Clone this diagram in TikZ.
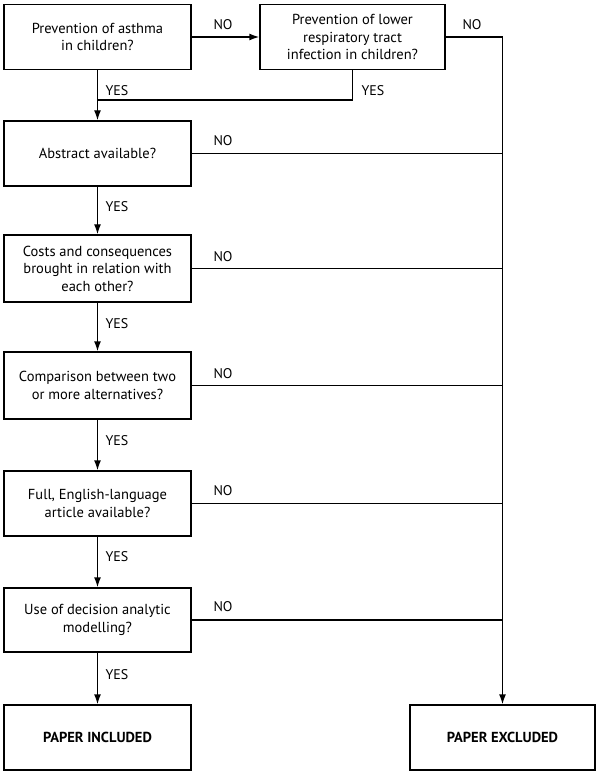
\documentclass[tikz,border=0pt]{standalone}
\usepackage{fontspec}
\setmainfont{PT Sans}
\usetikzlibrary{arrows.meta}
\begin{document}
\begin{tikzpicture}[x=1pt,y=-1pt,
  box/.style={draw,line width=1.4pt,minimum width=187pt,inner sep=0pt,align=center,font=\fontsize{14.5}{17.5}\selectfont},
  lbl/.style={font=\fontsize{14}{16}\selectfont,inner sep=0pt},
  ln/.style={line width=1.4pt},
  arr/.style={line width=1.4pt,-{Latex[length=10pt,width=7pt]}}]
\useasboundingbox (0,0) rectangle (600,775);
\node[box,minimum height=65pt] (b1) at (97.5,37) {Prevention of asthma\\in children?};
\node[box,minimum height=65pt,minimum width=185pt] (b2) at (352.5,37) {Prevention of lower\\respiratory tract\\infection in children?};
\node[box,minimum height=65pt] (b3) at (97.5,153.5) {Abstract available?};
\node[box,minimum height=67pt] (b4) at (97.5,268.5) {Costs and consequences\\brought in relation with\\each other?};
\node[box,minimum height=67pt] (b5) at (97.5,385.5) {Comparison between two\\or more alternatives?};
\node[box,minimum height=65pt] (b6) at (97.5,503.5) {Full, English-language\\article available?};
\node[box,minimum height=64pt] (b7) at (97.5,620) {Use of decision analytic\\modelling?};
\node[box,minimum height=65pt,font=\fontsize{14.5}{17.5}\selectfont\bfseries] (inc) at (97.5,737.5) {PAPER INCLUDED};
\node[box,minimum height=65pt,minimum width=185pt,font=\fontsize{14.5}{17.5}\selectfont\bfseries] (exc) at (502.5,737.5) {PAPER EXCLUDED};
\coordinate (j) at (97.5,100);
\coordinate (c) at (502.5,37);
% arrows
\draw[arr] (b1) -- (b2);
\draw[ln] (b2.east) -- (c);
\draw[arr] (c) -- (exc.north);
\draw[ln] (b2.south) |- (j);
\draw[arr] (b1) -- (b3);
\draw[arr] (b3) -- (b4);
\draw[arr] (b4) -- (b5);
\draw[arr] (b5) -- (b6);
\draw[arr] (b6) -- (b7);
\draw[arr] (b7) -- (inc);
\foreach \b in {b3,b4,b5,b6,b7}{\draw[ln] (\b.east) -- (\b.east -| c);}
% labels
\node[lbl] (n1) at (223,25) {NO};
\node[lbl] (n2) at (472,25) {NO};
\node[lbl] (y1) at (117,91) {YES};
\node[lbl] (y2) at (373,91) {YES};
\node[lbl] (n3) at (223,141) {NO};
\node[lbl] (y3) at (117,207) {YES};
\node[lbl] (n4) at (223,257) {NO};
\node[lbl] (y4) at (117,324) {YES};
\node[lbl] (n5) at (223,374) {NO};
\node[lbl] (y5) at (117,441) {YES};
\node[lbl] (n6) at (223,491) {NO};
\node[lbl] (y6) at (117,557) {YES};
\node[lbl] (n7) at (223,607) {NO};
\node[lbl] (y7) at (117,675) {YES};
\end{tikzpicture}
\end{document}
